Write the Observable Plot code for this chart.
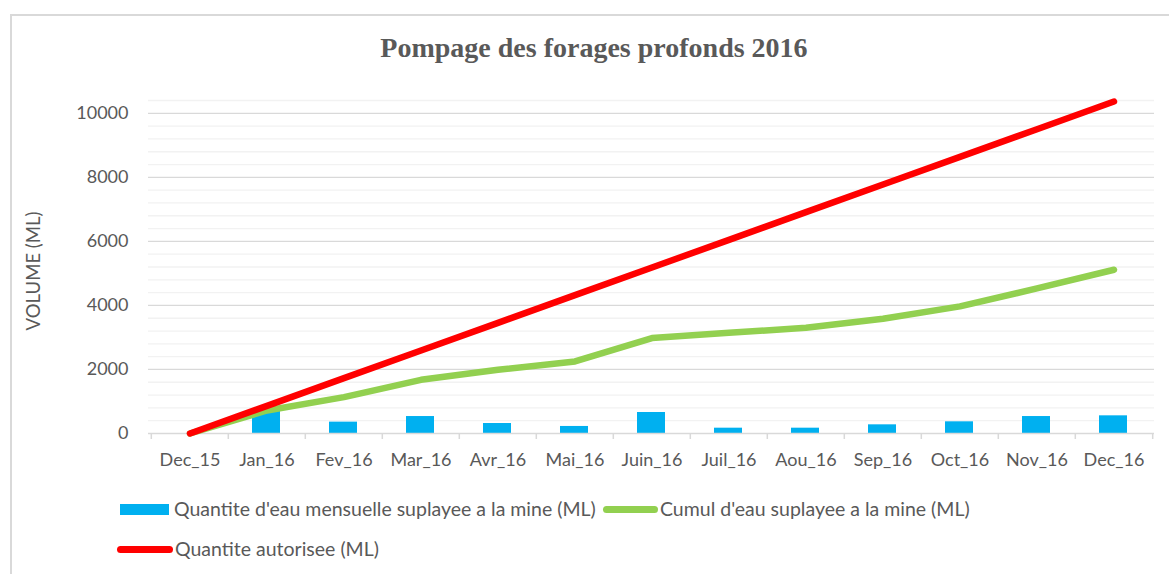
<!DOCTYPE html>
<html>
<head>
<meta charset="utf-8">
<script src="https://cdn.jsdelivr.net/npm/d3@7"></script>
<script src="https://cdn.jsdelivr.net/npm/@observablehq/plot@0.6"></script>
<style>
  html, body { margin: 0; padding: 0; background: #fff; }
  #wrap { position: relative; width: 1169px; height: 574px; overflow: hidden; font-family: Lato, "Open Sans", sans-serif; color: #595959; }
  #frame { position: absolute; left: 10px; top: 14px; width: 1200px; height: 600px; border-left: 2px solid #d9d9d9; border-top: 2px solid #d9d9d9; box-sizing: border-box; }
  #title { position: absolute; left: 0; width: 1188px; top: 32px; text-align: center; font-family: "Liberation Serif", serif; font-weight: bold; font-size: 28px; line-height: 32px; color: #595959; }
  #ylabel { position: absolute; left: 33px; top: 271px; font-size: 18.5px; line-height: 20px; white-space: nowrap; transform: translate(-50%, -50%) rotate(-90deg); }
  #chart { position: absolute; left: 0; top: 0; }
  .leg { position: absolute; font-size: 19.5px; color: #595959; white-space: nowrap; line-height: 22px; }
  .sw { position: absolute; }
</style>
</head>
<body>
<div id="wrap">
  <div id="frame"></div>
  <div id="title">Pompage des forages profonds 2016</div>
  <div id="chart"></div>
  <div id="ylabel">VOLUME (ML)</div>
  <div class="sw" style="left:120px;top:504px;width:49px;height:11px;background:#00b0f0"></div>
  <div class="leg" style="left:174px;top:498px">Quantite d'eau mensuelle suplayee a la mine (ML)</div>
  <div class="sw" style="left:603px;top:506px;width:55px;height:7px;border-radius:4px;background:#92d050"></div>
  <div class="leg" style="left:660px;top:498px">Cumul d'eau suplayee a la mine (ML)</div>
  <div class="sw" style="left:117px;top:546px;width:56px;height:7px;border-radius:4px;background:#ff0000"></div>
  <div class="leg" style="left:175px;top:538px">Quantite autorisee (ML)</div>
</div>
<script>
const months = ["Dec_15","Jan_16","Fev_16","Mar_16","Avr_16","Mai_16","Juin_16","Juil_16","Aou_16","Sep_16","Oct_16","Nov_16","Dec_16"];
const monthly = [0, 690, 355, 530, 312, 220, 656, 166, 166, 271, 365, 530, 552];
const cumul = [0, 720, 1135, 1677, 1990, 2250, 2980, 3145, 3300, 3583, 3970, 4530, 5115];
const autorisee = [0, 864, 1728, 2592, 3456, 4320, 5184, 6048, 6912, 7776, 8640, 9504, 10368];
const yMajor = [0, 2000, 4000, 6000, 8000, 10000];
const yMinor = [400, 800, 1200, 1600, 2400, 2800, 3200, 3600, 4400, 4800, 5200, 5600, 6400, 6800, 7200, 7600, 8400, 8800, 9200, 9600, 10400];

const data = months.map((m, i) => ({month: m, monthly: monthly[i], cumul: cumul[i], autorisee: autorisee[i]}));

const W = 1169, H = 480, mL = 148, mR = 15, mT = 100, mB = 47;
const half = (W - mL - mR) / months.length / 2;
const lastMonth = months[months.length - 1];

const chart = Plot.plot({
  width: W, height: H,
  marginLeft: mL, marginRight: mR, marginTop: mT, marginBottom: mB,
  style: {fontFamily: "Lato, sans-serif", fontSize: "18px", color: "#595959", background: "transparent"},
  x: {type: "band", domain: months, padding: 0, label: null},
  y: {domain: [0, 10400], label: null},
  marks: [
    Plot.ruleY(yMinor, {stroke: "#f2f2f2", strokeWidth: 1.3}),
    Plot.ruleY(yMajor.slice(1), {stroke: "#d9d9d9", strokeWidth: 1.3}),
    Plot.axisY({ticks: yMajor, tickSize: 0, tickPadding: 20, tickFormat: d => String(d), fill: "#595959", fontSize: 18}),
    Plot.axisX({tickSize: 0, tickPadding: 20, fill: "#595959", fontSize: 18}),
    Plot.barY(data, {x: "month", y: "monthly", fill: "#00b0f0", insetLeft: 24, insetRight: 25}),
    Plot.ruleY([0], {stroke: "#d9d9d9", strokeWidth: 1.5}),
    Plot.ruleX(months, {x: d => d, y1: 0, y2: 0, dx: -half, insetTop: 6, stroke: "#d9d9d9", strokeWidth: 1.5}),
    Plot.ruleX([lastMonth], {x: d => d, y1: 0, y2: 0, dx: half, insetTop: 6, stroke: "#d9d9d9", strokeWidth: 1.5}),
    Plot.lineY(data, {x: "month", y: "cumul", stroke: "#92d050", strokeWidth: 6.5, strokeLinecap: "round", strokeLinejoin: "round"}),
    Plot.lineY(data, {x: "month", y: "autorisee", stroke: "#ff0000", strokeWidth: 6.5, strokeLinecap: "round", strokeLinejoin: "round"})
  ]
});
document.getElementById("chart").appendChild(chart);
</script>
</body>
</html>
